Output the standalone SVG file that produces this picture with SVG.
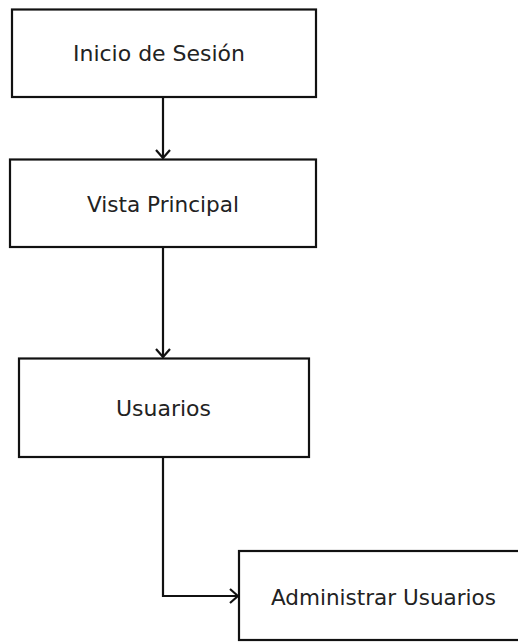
<svg xmlns="http://www.w3.org/2000/svg" width="518" height="642" viewBox="0 0 518 642">
<defs>
<style>
.box{fill:#fff;stroke:#111;stroke-width:2.2}
.lbl{font-family:"DejaVu Sans",Verdana,sans-serif;font-size:20.5px;fill:#222}
.conn{fill:none;stroke:#111;stroke-width:2.2}
</style>
<marker id="arr" viewBox="0 0 10 16" refX="9" refY="8" markerWidth="10" markerHeight="16" markerUnits="userSpaceOnUse" orient="auto">
<path d="M1,1 L9,8 L1,15" fill="none" stroke="#111" stroke-width="2.2"/>
</marker>
</defs>
<rect width="518" height="642" fill="#fff"/>
<g id="n1"><rect class="box" x="12" y="9.5" width="304" height="87.5"/><text class="lbl" x="73" y="61" textLength="172" lengthAdjust="spacingAndGlyphs">Inicio de Sesión</text></g>
<g id="n2"><rect class="box" x="10" y="159.5" width="306" height="87.5"/><text class="lbl" x="87" y="211.5" textLength="152" lengthAdjust="spacingAndGlyphs">Vista Principal</text></g>
<g id="n3"><rect class="box" x="19" y="358.5" width="290" height="98.5"/><text class="lbl" x="116" y="415.5" textLength="95" lengthAdjust="spacingAndGlyphs">Usuarios</text></g>
<g id="n4"><rect class="box" x="239" y="551" width="290" height="89"/><text class="lbl" x="271" y="605" textLength="225" lengthAdjust="spacingAndGlyphs">Administrar Usuarios</text></g>
<g id="connectors">
<path class="conn" d="M163,97 L163,158" marker-end="url(#arr)"/>
<path class="conn" d="M163,247 L163,357" marker-end="url(#arr)"/>
<path class="conn" d="M163,457 L163,596 L238,596" marker-end="url(#arr)"/>
</g>
</svg>
